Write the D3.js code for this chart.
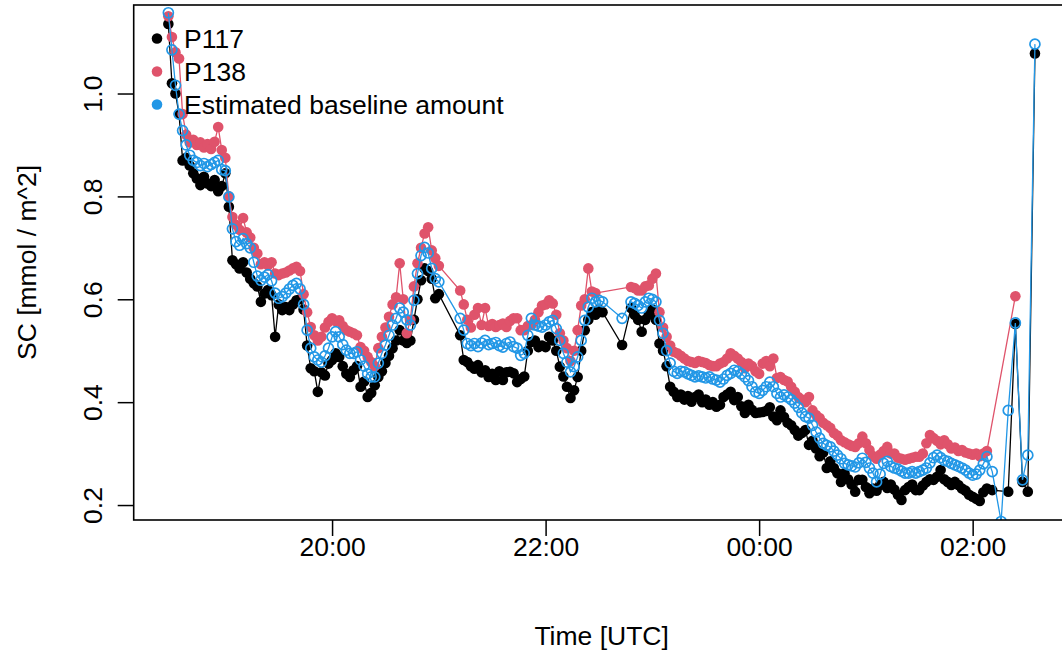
<!DOCTYPE html>
<html>
<head>
<meta charset="utf-8">
<script src="https://cdn.jsdelivr.net/npm/d3@7"></script>
<style>
  html, body { margin: 0; padding: 0; background: #fff; }
  svg text { font-family: "Liberation Sans", Arial, Helvetica, sans-serif; fill: #000; }
</style>
</head>
<body>
<svg id="chart" width="1062" height="655"></svg>
<script>
// Sampling times (UTC); times before noon belong to the following day
const times = [
  "18:28","18:30","18:32","18:34","18:36","18:38","18:40","18:42","18:44","18:46",
  "18:48","18:50","18:52","18:54","18:56","18:58","19:00","19:02","19:04","19:06",
  "19:08","19:10","19:12","19:14","19:16","19:18","19:20","19:22","19:24","19:26",
  "19:28","19:30","19:32","19:34","19:36","19:38","19:40","19:42","19:44","19:46",
  "19:48","19:50","19:52","19:54","19:56","19:58","20:00","20:02","20:04","20:06",
  "20:08","20:10","20:12","20:14","20:16","20:18","20:20","20:22","20:24","20:26",
  "20:28","20:30","20:32","20:34","20:36","20:38","20:40","20:42","20:44","20:46",
  "20:48","20:50","20:52","20:54","20:56","20:58","21:00","21:12","21:14","21:16",
  "21:18","21:20","21:22","21:24","21:26","21:28","21:30","21:32","21:34","21:36",
  "21:38","21:40","21:42","21:44","21:46","21:48","21:50","21:52","21:54","21:56",
  "21:58","22:00","22:02","22:04","22:06","22:08","22:10","22:12","22:14","22:16",
  "22:18","22:20","22:22","22:24","22:26","22:28","22:30","22:32","22:43","22:48",
  "22:50","22:52","22:54","22:56","22:58","23:00","23:02","23:04","23:06","23:08",
  "23:10","23:12","23:14","23:16","23:18","23:20","23:22","23:24","23:26","23:28",
  "23:30","23:32","23:34","23:36","23:38","23:40","23:42","23:44","23:46","23:48",
  "23:50","23:52","23:54","23:56","23:58","00:00","00:02","00:04","00:06","00:08",
  "00:10","00:12","00:14","00:16","00:18","00:20","00:22","00:24","00:26","00:28",
  "00:30","00:32","00:34","00:36","00:38","00:40","00:42","00:44","00:46","00:48",
  "00:50","00:52","00:54","00:56","00:58","01:00","01:02","01:04","01:06","01:08",
  "01:10","01:12","01:14","01:16","01:18","01:20","01:22","01:24","01:26","01:28",
  "01:30","01:32","01:34","01:36","01:38","01:40","01:42","01:44","01:46","01:48",
  "01:50","01:52","01:54","01:56","01:58","02:00","02:02","02:04","02:06","02:08",
  "02:11","02:16","02:20","02:24","02:28","02:31","02:35"
];

// SC at station P117 (mmol / m^2)
const p117 = [
  1.135,1.020,1.000,0.960,0.870,0.875,0.860,0.845,0.835,0.822,
  0.838,0.825,0.820,0.832,0.810,0.820,0.845,0.780,0.676,0.668,
  0.660,0.672,0.652,0.640,0.631,0.625,0.595,0.611,0.618,0.608,
  0.527,0.590,0.579,0.585,0.579,0.590,0.598,0.600,0.580,0.510,
  0.466,0.460,0.420,0.458,0.452,0.475,0.482,0.495,0.488,0.470,
  0.455,0.449,0.462,0.470,0.430,0.440,0.410,0.418,0.433,0.449,
  0.460,0.476,0.490,0.505,0.520,0.540,0.520,0.515,0.520,0.560,
  0.600,0.637,0.660,0.655,0.640,0.602,0.610,0.530,0.482,0.478,
  0.470,0.465,0.472,0.458,0.462,0.449,0.455,0.443,0.460,0.443,
  0.458,0.459,0.456,0.439,0.445,0.450,0.500,0.517,0.520,0.507,
  0.510,0.507,0.527,0.520,0.500,0.469,0.450,0.430,0.408,0.423,
  0.449,0.500,0.540,0.560,0.575,0.570,0.580,0.575,0.511,0.583,
  0.570,0.560,0.537,0.560,0.570,0.580,0.560,0.514,0.500,0.470,
  0.430,0.420,0.410,0.415,0.405,0.412,0.401,0.410,0.415,0.400,
  0.405,0.395,0.400,0.391,0.395,0.410,0.415,0.420,0.404,0.410,
  0.392,0.379,0.395,0.385,0.379,0.380,0.381,0.383,0.390,0.372,
  0.365,0.384,0.371,0.360,0.355,0.346,0.335,0.340,0.346,0.317,
  0.325,0.310,0.295,0.302,0.272,0.285,0.272,0.262,0.245,0.262,
  0.250,0.240,0.226,0.249,0.249,0.235,0.223,0.232,0.228,0.239,
  0.245,0.233,0.240,0.230,0.220,0.210,0.229,0.235,0.240,0.229,
  0.229,0.238,0.245,0.250,0.249,0.255,0.268,0.250,0.245,0.239,
  0.245,0.239,0.232,0.228,0.220,0.216,0.212,0.208,0.225,0.232,
  0.229,null,0.226,0.552,0.245,0.226,1.078
];

// SC at station P138 (mmol / m^2)
const p138 = [
  1.150,1.110,1.080,1.068,0.960,0.920,0.905,0.910,0.900,0.905,
  0.895,0.902,0.892,0.906,0.935,0.890,0.875,0.800,0.760,0.745,
  0.735,0.758,0.730,0.720,0.700,0.689,0.668,0.672,0.666,0.672,
  0.650,0.647,0.650,0.652,0.656,0.660,0.663,0.655,0.610,0.575,
  0.546,0.530,0.520,0.527,0.545,0.556,0.563,0.558,0.559,0.548,
  0.540,0.537,0.534,0.530,0.507,0.500,0.488,0.478,0.470,0.505,
  0.527,0.545,0.566,0.590,0.604,0.670,0.600,0.534,0.560,0.625,
  0.670,0.700,0.728,0.740,0.695,0.680,0.665,0.617,0.590,0.560,
  0.545,0.570,0.583,0.550,0.583,0.548,0.552,0.546,0.550,0.553,
  0.546,0.558,0.563,0.563,0.540,0.540,0.548,0.550,0.560,0.575,
  0.588,0.590,0.598,0.592,0.570,0.534,0.520,0.505,0.480,0.500,
  0.540,0.588,0.600,0.660,0.615,0.612,null,null,null,0.624,
  0.622,0.617,0.617,0.625,0.627,0.640,0.650,0.575,0.545,0.527,
  0.510,0.498,0.495,0.490,0.485,0.480,0.478,0.476,0.480,0.478,
  0.476,0.472,0.470,0.470,0.475,0.478,0.485,0.495,0.490,0.485,
  0.478,0.466,0.475,0.470,0.460,0.455,0.475,0.480,0.470,0.485,
  0.447,0.449,0.443,0.440,0.430,0.420,0.410,0.405,0.400,0.410,
  0.384,0.375,0.369,0.360,0.355,0.350,0.340,0.335,0.326,0.322,
  0.318,0.315,0.313,0.320,0.333,0.320,0.307,0.295,0.290,0.298,
  0.305,0.313,0.300,0.300,0.292,0.290,0.288,0.290,0.292,0.294,
  0.294,0.300,0.320,0.336,0.330,0.325,0.318,0.326,0.318,0.310,
  0.312,0.305,0.307,0.302,0.300,0.298,0.300,0.295,0.300,0.305,
  null,null,null,0.606,null,null,null
];

// Estimated baseline amount (mmol / m^2)
const baseline = [
  1.157,1.085,1.016,0.960,0.928,0.900,0.880,0.870,0.866,0.860,
  0.864,0.858,0.862,0.866,0.870,0.852,0.850,0.799,0.737,0.712,
  0.705,0.718,0.708,0.700,0.672,0.645,0.637,0.643,0.648,0.636,
  0.612,0.602,0.605,0.612,0.620,0.627,0.631,0.620,0.590,0.540,
  0.505,0.488,0.482,0.478,0.490,0.505,0.527,0.537,0.527,0.512,
  0.501,0.495,0.495,0.498,0.482,0.470,0.455,0.449,0.449,0.476,
  0.495,0.511,0.530,0.550,0.563,0.583,0.575,0.560,0.550,0.598,
  0.650,0.685,0.701,0.690,0.660,0.640,0.634,0.563,0.540,0.514,
  0.510,0.514,0.508,0.515,0.520,0.512,0.514,0.516,0.510,0.507,
  0.514,0.517,0.508,0.505,0.491,0.495,0.530,0.563,0.550,0.548,
  0.546,0.550,0.556,0.559,0.543,0.520,0.495,0.478,0.459,0.469,
  0.488,0.520,0.559,0.585,0.602,0.595,0.598,0.595,0.563,0.595,
  0.592,0.588,0.583,0.595,0.602,0.600,0.595,0.559,0.534,0.500,
  0.476,0.460,0.456,0.460,0.459,0.455,0.452,0.449,0.451,0.449,
  0.447,0.449,0.445,0.443,0.439,0.445,0.452,0.456,0.462,0.460,
  0.455,0.449,0.442,0.430,0.420,0.417,0.423,0.430,0.439,0.430,
  0.417,0.410,0.414,0.410,0.405,0.398,0.390,0.379,0.372,0.369,
  0.355,0.342,0.330,0.320,0.316,0.313,0.305,0.297,0.290,0.281,
  0.278,0.276,0.274,0.282,0.291,0.283,0.272,0.262,0.245,0.260,
  0.281,0.285,0.275,0.272,0.270,0.266,0.262,0.262,0.265,0.262,
  0.265,0.268,0.272,0.282,0.292,0.297,0.292,0.287,0.285,0.281,
  0.278,0.275,0.272,0.268,0.262,0.258,0.260,0.268,0.280,0.294,
  0.265,0.168,0.384,0.554,0.249,0.297,1.096
];

const seriesNames = ["P117", "P138", "Estimated baseline amount"];
const seriesColors = ["#000000", "#DF536B", "#2297E6"];

const xTitle = "Time [UTC]";
const yTitle = "SC [mmol / m^2]";

// ---- layout ----
const plot = { left: 133.7, top: 5, bottom: 520, right: 1069.6 };
const FONT = 26.5;

const svg = d3.select("#chart");

const parseTime = s => {
  const [h, m] = s.split(":").map(Number);
  return new Date(Date.UTC(2000, 0, h < 12 ? 2 : 1, h, m));
};
const dates = times.map(parseTime);

// R-style axis ranges: data extent padded by 4% on each side
const [t0, t1] = d3.extent(dates);
const tPad = (t1 - t0) * 0.04;
const x = d3.scaleUtc()
  .domain([new Date(+t0 - tPad), new Date(+t1 + tPad)])
  .range([plot.left, plot.right]);

const [vMin, vMax] = d3.extent(p117.filter(v => v != null));
const vPad = (vMax - vMin) * 0.04;
const y = d3.scaleLinear()
  .domain([vMin - vPad, vMax + vPad])
  .range([plot.bottom, plot.top]);

svg.append("defs").append("clipPath").attr("id", "plotClip")
  .append("rect")
  .attr("x", plot.left).attr("y", plot.top)
  .attr("width", plot.right - plot.left).attr("height", plot.bottom - plot.top);

const series = [
  { values: p117, color: seriesColors[0], open: false },
  { values: p138, color: seriesColors[1], open: false },
  { values: baseline, color: seriesColors[2], open: true }
];

const dataLayer = svg.append("g").attr("clip-path", "url(#plotClip)");
const line = d3.line().x(d => x(d.t)).y(d => y(d.v));

series.forEach(s => {
  const pts = dates.map((t, i) => ({ t, v: s.values[i] })).filter(d => d.v != null);
  const g = dataLayer.append("g");
  g.append("path")
    .datum(pts)
    .attr("d", line)
    .attr("fill", "none")
    .attr("stroke", s.color)
    .attr("stroke-width", 1.3);
  g.selectAll("circle")
    .data(pts)
    .join("circle")
    .attr("cx", d => x(d.t))
    .attr("cy", d => y(d.v))
    .attr("r", s.open ? 5.0 : 5.3)
    .attr("fill", s.open ? "none" : s.color)
    .attr("stroke", s.open ? s.color : "none")
    .attr("stroke-width", s.open ? 1.7 : 0);
});

// ---- axes ----
const xAxis = d3.axisBottom(x)
  .tickValues(x.ticks(d3.utcHour.every(2)))
  .tickFormat(d3.utcFormat("%H:%M"))
  .tickSize(16)
  .tickPadding(1);

svg.append("g")
  .attr("transform", `translate(0,${plot.bottom})`)
  .call(xAxis)
  .call(g => g.select(".domain").remove())
  .call(g => g.selectAll(".tick line").attr("stroke", "#000").attr("stroke-width", 1.5))
  .call(g => g.selectAll(".tick text").attr("font-size", FONT).attr("fill", "#000"))
  .attr("font-family", null).attr("font-size", null);

const yAxis = d3.axisLeft(y)
  .tickValues(y.ticks(5))
  .tickFormat(d3.format(".1f"))
  .tickSize(16);

svg.append("g")
  .attr("transform", `translate(${plot.left},0)`)
  .call(yAxis)
  .call(g => g.select(".domain").remove())
  .call(g => g.selectAll(".tick line").attr("stroke", "#000").attr("stroke-width", 1.5))
  .call(g => g.selectAll(".tick text")
    .attr("x", null).attr("dy", null)
    .attr("text-anchor", "middle")
    .attr("transform", "translate(-32,0) rotate(-90)")
    .attr("font-size", FONT).attr("fill", "#000"))
  .attr("font-family", null).attr("font-size", null);

// plot frame
svg.append("rect")
  .attr("x", plot.left).attr("y", plot.top)
  .attr("width", plot.right - plot.left).attr("height", plot.bottom - plot.top)
  .attr("fill", "none").attr("stroke", "#000").attr("stroke-width", 1.6);

// axis titles
svg.append("text")
  .attr("x", (plot.left + plot.right) / 2).attr("y", 645)
  .attr("text-anchor", "middle").attr("font-size", FONT)
  .text(xTitle);

svg.append("text")
  .attr("transform", `translate(36,${(plot.top + plot.bottom) / 2}) rotate(-90)`)
  .attr("text-anchor", "middle").attr("font-size", FONT)
  .text(yTitle);

// ---- legend (no frame) ----
const legend = svg.append("g").attr("transform", "translate(157,38.5)");
seriesNames.forEach((name, i) => {
  const row = legend.append("g").attr("transform", `translate(0,${i * 33})`);
  row.append("circle").attr("r", 5.3).attr("fill", seriesColors[i]);
  row.append("text").attr("x", 27).attr("y", 9.5).attr("font-size", FONT).text(name);
});
</script>
</body>
</html>
